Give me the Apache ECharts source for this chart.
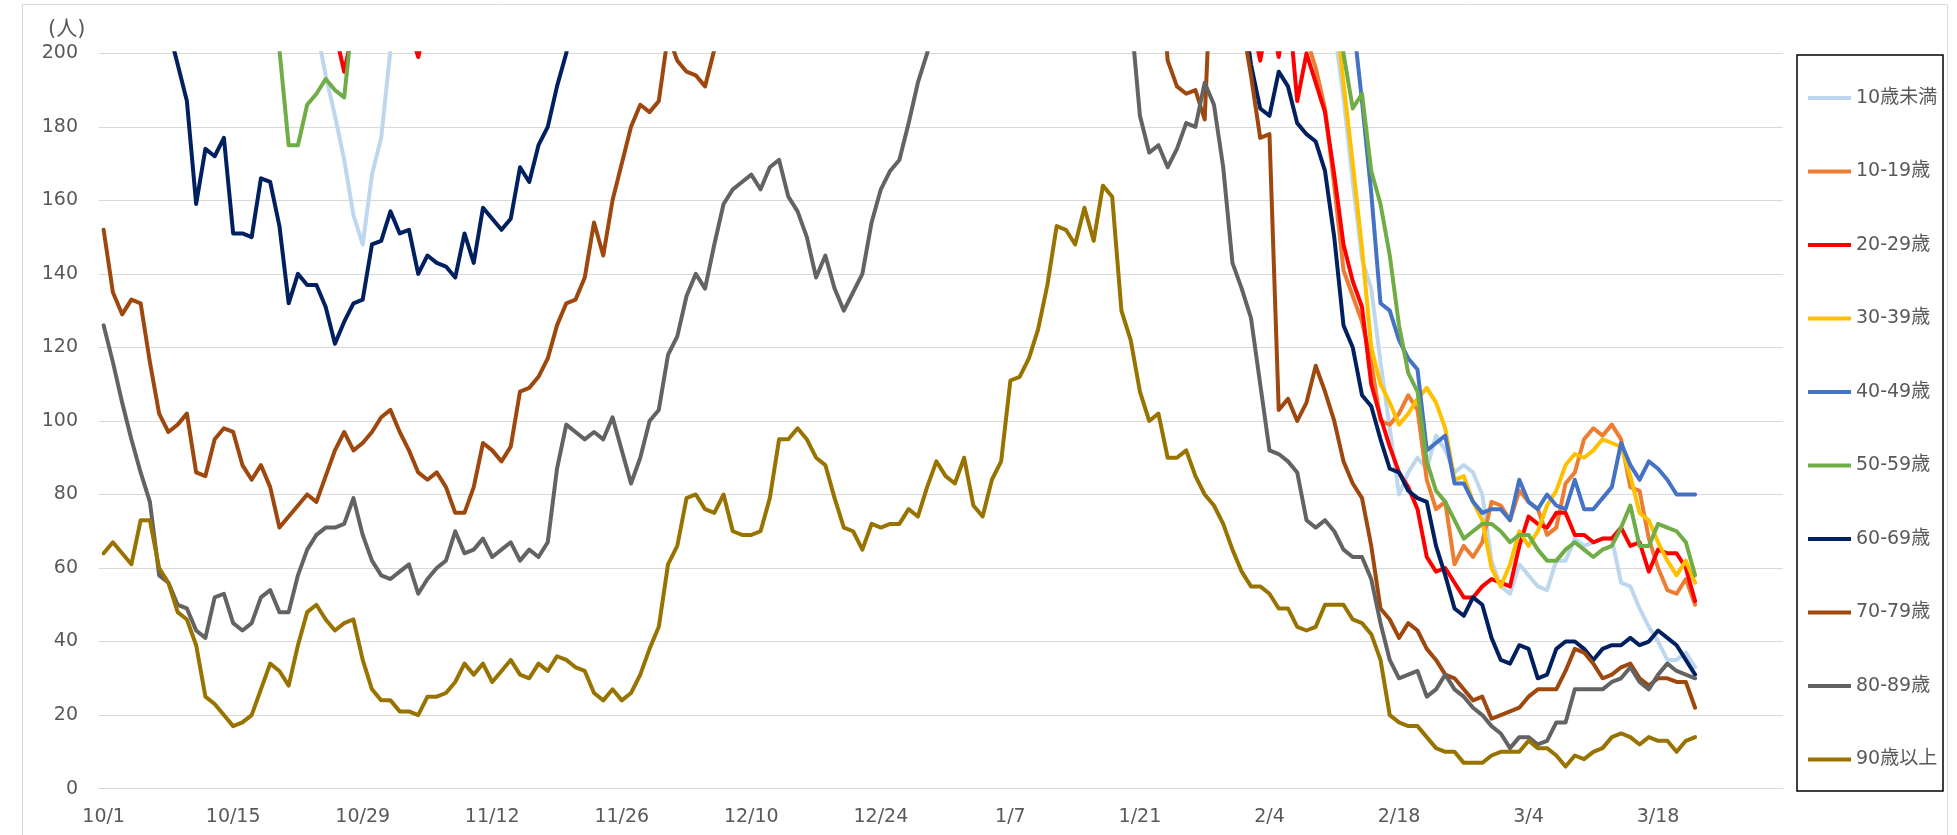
<!DOCTYPE html>
<html><head><meta charset="utf-8">
<script src="https://cdn.jsdelivr.net/npm/echarts@6/dist/echarts.min.js"></script>
<style>html,body{margin:0;padding:0;background:#fff}#c{width:1957px;height:835px}</style>
</head><body><div id="c"></div>
<script>
// categories: 10/1 .. 3/31 (daily)
const monthDays = [[10,31],[11,30],[12,31],[1,31],[2,28],[3,31]];
const categories = [];
monthDays.forEach(([m,n]) => { for (let d = 1; d <= n; d++) categories.push(m + '/' + d); });

const seriesNames = ['10歳未満','10-19歳','20-29歳','30-39歳','40-49歳','50-59歳','60-69歳','70-79歳','80-89歳','90歳以上'];
const yTicks = [0,20,40,60,80,100,120,140,160,180,200];

const u10 = [
260,255,250,246,242,238,234,230,226,224,
222,220,220,222,224,226,228,226,222,218,
214,212,210,207,194,183,171,156,148,167,
177,201,222,240,255,270,285,300,315,330,
345,360,375,390,405,420,435,450,465,480,
490,500,510,520,530,540,550,560,570,580,
590,600,610,620,630,640,650,660,670,680,
690,700,710,720,730,740,745,750,755,760,
765,770,775,780,785,790,795,800,800,800,
795,790,780,770,760,750,740,730,720,705,
690,675,660,640,620,600,580,560,540,520,
500,480,460,440,420,400,380,360,345,330,
315,300,290,280,270,262,255,248,242,236,
230,224,216,207,188,165,144,136,116,98,
80,86,90,87,96,92,86,88,86,80,
62,55,53,61,58,55,54,62,62,68,
66,67,68,68,56,55,49,44,40,35,35,37,33];

const a10 = [
300,296,292,290,286,282,280,276,272,270,
268,266,262,260,258,256,255,254,252,250,
250,252,254,256,258,262,266,270,276,282,
288,294,300,306,312,320,328,336,344,352,
360,370,380,390,400,410,420,430,440,450,
455,460,462,465,468,470,472,475,478,480,
485,490,495,500,505,510,520,530,540,550,
560,570,580,590,600,610,620,630,640,650,
660,670,680,690,700,710,720,730,740,750,
760,770,780,790,800,800,790,780,770,760,
740,720,700,680,660,640,620,600,580,560,
540,520,500,480,460,440,420,400,380,360,
340,320,300,285,270,255,245,235,228,220,
204,196,185,164,141,134,127,116,100,99,
102,107,103,84,76,78,61,66,63,67,
78,77,73,81,78,76,69,71,83,86,
95,98,96,99,95,82,81,68,60,54,53,57,50];

const a20 = [
240,236,232,230,228,225,222,220,218,216,
215,214,213,212,211,210,210,209,208,208,
207,207,206,206,206,206,195,207,212,218,
222,220,214,207,199,210,222,235,248,262,
276,290,305,320,336,352,368,384,400,416,
430,445,460,475,490,505,520,535,550,565,
580,595,610,625,640,655,670,685,700,715,
730,745,760,775,790,805,820,835,850,865,
880,895,910,925,940,955,970,985,1000,1000,
990,980,970,960,950,930,910,890,870,850,
820,790,760,730,700,670,640,610,580,550,
520,490,460,430,400,370,345,320,300,280,
262,248,236,224,210,198,212,199,215,187,
200,192,184,167,148,138,131,110,101,93,
86,82,76,63,59,60,56,52,52,55,
57,56,55,66,74,72,71,75,75,69,
69,67,68,68,71,66,67,59,65,64,64,60,51];

const a30 = [
280,276,272,268,265,262,260,258,256,254,
252,250,248,246,245,244,244,245,246,248,
250,252,255,258,262,266,270,275,280,286,
292,298,305,312,320,328,336,345,354,363,
372,382,392,402,412,422,432,442,452,462,
470,478,486,494,500,506,512,518,524,530,
536,542,548,554,560,566,574,582,590,598,
606,614,622,630,638,646,654,662,670,678,
686,694,702,710,718,726,734,742,750,758,
760,755,750,740,730,720,710,700,690,675,
660,640,620,600,580,560,540,520,500,480,
460,440,420,400,385,370,355,340,326,312,
300,290,280,270,262,254,246,239,233,228,
224,220,218,215,192,170,147,120,110,105,
99,102,106,109,105,98,84,85,78,73,
60,55,61,70,66,70,77,81,88,91,
90,92,95,94,93,85,75,73,67,62,58,62,56];

const a40 = [
270,266,262,258,255,252,250,248,246,244,
242,240,238,236,235,234,234,235,236,238,
240,242,244,246,248,252,256,260,264,268,
272,276,280,285,290,295,300,306,312,318,
324,330,336,342,348,354,360,366,372,378,
384,390,396,402,408,414,420,426,432,438,
444,450,456,462,468,474,480,486,492,498,
504,510,516,522,528,534,540,546,552,558,
564,570,576,582,588,594,600,606,612,618,
620,615,610,600,590,580,570,560,550,535,
520,505,490,475,460,445,430,415,400,385,
370,355,340,328,316,304,294,284,275,268,
262,256,250,245,240,236,232,229,226,223,
220,218,216,214,212,210,187,162,132,130,
122,117,114,92,94,96,83,83,78,75,
76,76,73,84,78,76,80,77,76,84,
76,76,79,82,94,88,84,89,87,84,80,80,80];

const a50 = [
290,285,280,275,270,265,260,255,250,245,
242,240,238,236,234,232,230,228,230,201,
175,175,186,189,193,190,188,212,235,255,
270,285,300,315,330,345,360,375,390,405,
420,435,450,465,480,495,510,525,540,555,
570,580,590,600,610,620,630,640,650,660,
670,680,690,700,710,720,730,740,750,760,
770,780,790,800,810,820,830,840,850,860,
870,880,890,900,910,920,930,940,950,960,
965,960,950,940,925,910,895,880,860,840,
815,790,765,740,710,680,650,620,590,560,
530,500,470,440,415,390,370,350,332,316,
302,290,280,271,263,256,250,245,240,236,
232,229,226,223,200,185,189,168,159,145,
126,113,108,89,81,78,73,68,70,72,
72,70,67,69,69,65,62,62,65,67,
65,63,65,66,71,77,66,66,72,71,70,67,58];

const a60 = [
250,245,240,235,228,222,215,207,197,187,
159,174,172,177,151,151,150,166,165,153,
132,140,137,137,131,121,127,132,133,148,
149,157,151,152,140,145,143,142,139,151,
143,158,155,152,155,169,165,175,180,191,
200,215,228,240,252,264,276,288,300,312,
324,336,348,360,372,384,396,408,420,432,
444,456,468,480,492,504,516,528,540,552,
564,576,588,600,610,620,630,640,650,660,
665,660,650,640,630,615,600,585,570,550,
530,510,490,470,450,430,410,390,370,350,
335,320,305,292,280,270,260,252,245,238,
232,226,220,215,197,185,183,195,191,181,
178,176,168,150,126,120,107,104,95,87,
86,81,79,78,66,58,49,47,52,50,
41,35,34,39,38,30,31,38,40,40,
38,35,38,39,39,41,39,40,43,41,39,35,31];

const a70 = [
152,135,129,133,132,116,102,97,99,102,
86,85,95,98,97,88,84,88,82,71,
74,77,80,78,85,92,97,92,94,97,
101,103,97,92,86,84,86,82,75,75,
82,94,92,89,93,108,109,112,117,126,
132,133,139,154,145,160,170,180,186,184,
187,205,198,195,194,191,201,220,235,250,
262,274,286,298,310,322,334,346,358,370,
380,390,400,410,420,430,440,450,460,470,
475,470,465,455,445,435,425,415,400,385,
370,355,340,325,310,295,280,268,256,246,
238,232,226,222,230,198,191,189,190,182,
242,240,225,209,194,177,178,103,106,100,
105,115,108,100,89,83,79,66,49,46,
41,45,43,38,35,31,30,27,24,25,
19,20,21,22,25,27,27,27,32,38,
37,34,30,31,33,34,30,28,30,30,29,29,22];

const a80 = [
126,116,105,95,86,78,58,56,50,49,
43,41,52,53,45,43,45,52,54,48,
48,58,65,69,71,71,72,79,69,62,
58,57,59,61,53,57,60,62,70,64,
65,68,63,65,67,62,65,63,67,87,
99,97,95,97,95,101,92,83,90,100,
103,118,123,134,140,136,148,159,163,165,
167,163,169,171,161,157,150,139,145,136,
130,135,140,154,163,168,171,181,192,200,
212,225,238,250,262,272,280,288,294,298,
300,298,294,288,280,270,258,246,234,224,
216,211,183,173,175,169,174,181,180,192,
186,169,143,136,128,110,92,91,89,86,
73,71,73,70,65,63,63,57,45,35,
30,31,32,25,27,31,27,25,22,20,
17,15,11,14,14,12,13,18,18,27,
27,27,27,29,30,33,29,27,31,34,32,31,30];

const a90 = [
64,67,64,61,73,73,60,56,48,46,
39,25,23,20,17,18,20,27,34,32,
28,39,48,50,46,43,45,46,35,27,
24,24,21,21,20,25,25,26,29,34,
31,34,29,32,35,31,30,34,32,36,
35,33,32,26,24,27,24,26,31,38,
44,61,66,79,80,76,75,80,70,69,
69,70,79,95,95,98,95,90,88,79,
71,70,65,72,71,72,72,76,74,82,
89,85,83,90,77,74,84,89,111,112,
117,125,137,153,152,148,158,149,164,161,
130,122,108,100,102,90,90,92,85,80,
77,72,65,59,55,55,53,49,49,44,
43,44,50,50,50,46,45,42,35,20,
18,17,17,14,11,10,10,7,7,7,
9,10,10,10,13,11,11,9,6,9,
8,10,11,14,15,14,12,14,13,13,10,13,14];

const seriesData = [u10,a10,a20,a30,a40,a50,a60,a70,a80,a90];
const colors = ['#BDD7EE','#ED7D31','#FF0000','#FFC000','#4472C4','#70AD47','#002060','#9E480E','#636363','#997300'];

const FONT = "'DejaVu Sans','Noto Sans CJK JP',sans-serif";
const chart = echarts.init(document.getElementById('c'), null, {renderer:'canvas', width:1957, height:835});

chart.setOption({
  animation: false,
  backgroundColor: '#fff',
  grid: { left: 99, right: 174, top: 53.3, bottom: 46.4, containLabel: false, outerBoundsMode: 'none' },
  xAxis: {
    type: 'category', data: categories, boundaryGap: true,
    axisLine: { show: true, lineStyle: { color: '#d9d9d9', width: 1 } },
    axisTick: { show: false },
    axisLabel: { interval: 13, color: '#595959', fontSize: 19, fontFamily: FONT, margin: 19 },
    splitLine: { show: false }
  },
  yAxis: {
    type: 'value', min: yTicks[0], max: yTicks[yTicks.length-1], interval: 20,
    axisLine: { show: false }, axisTick: { show: false },
    axisLabel: { color: '#595959', fontSize: 19, fontFamily: FONT, margin: 21 },
    splitLine: { lineStyle: { color: '#d9d9d9', width: 1 } }
  },
  legend: {
    orient: 'vertical', left: 1803, top: 83,
    itemWidth: 43, itemHeight: 4, itemGap: 53.5, icon: 'rect',
    data: seriesNames,
    textStyle: { color: '#595959', fontSize: 19, fontFamily: FONT, lineHeight: 20 }
  },
  graphic: [
    { type: 'rect', shape: { x: 22.5, y: 4.5, width: 1925, height: 845 }, style: { fill: 'none', stroke: '#d9d9d9', lineWidth: 1 }, silent: true },
    { type: 'rect', shape: { x: 1797, y: 55, width: 146, height: 736 }, style: { fill: 'none', stroke: '#000', lineWidth: 1.5 }, silent: true },
    { type: 'text', left: 48, top: 19, style: { text: '(人)', fill: '#595959', font: "21px 'DejaVu Sans','Noto Sans CJK JP',sans-serif" } }
  ],
  series: seriesNames.map((name, i) => ({
    name, type: 'line', data: seriesData[i],
    symbol: 'none', showSymbol: false, clip: true,
    color: colors[i],
    lineStyle: { color: colors[i], width: 4, join: 'round', cap: 'round' },
    itemStyle: { color: colors[i] }
  }))
});
</script></body></html>
